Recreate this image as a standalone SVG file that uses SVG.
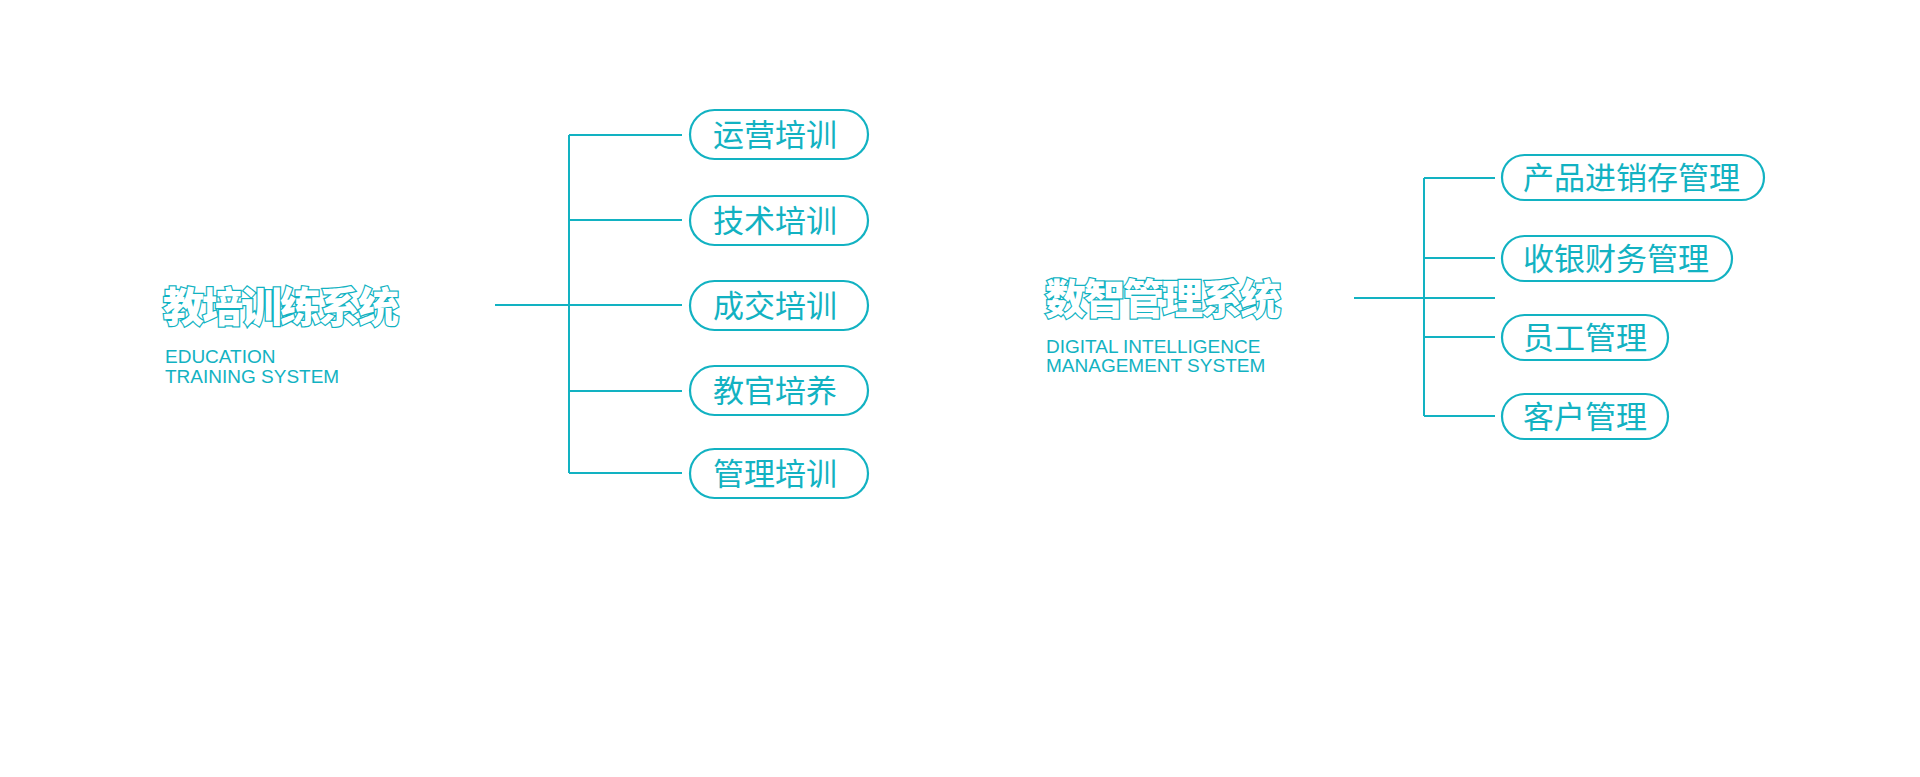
<svg xmlns="http://www.w3.org/2000/svg" width="1920" height="777" viewBox="0 0 1920 777">
<style>
.ln{stroke:#12b2c2;stroke-width:2;fill:none}
.box{fill:#fff;stroke:#12b2c2;stroke-width:2.2}
.bt{font-family:"Noto Sans CJK SC",sans-serif;font-size:31px;fill:#12b2c2}
.tt{font-family:"Noto Sans CJK SC",sans-serif;font-size:41px;font-weight:900;fill:#fff;stroke:#12b2c2;stroke-width:2.5;paint-order:stroke;letter-spacing:-2px}
.en{font-family:"Liberation Sans",Arial,sans-serif;font-size:19px;fill:#12b2c2}
</style>
<rect width="1920" height="777" fill="#fff"/>
<g id="connectors">
<path class="ln" d="M495 305H682M569 135V473M569 135H682M569 220H682M569 391H682M569 473H682"/>
<path class="ln" d="M1354 298H1495M1424 178V416M1424 178H1495M1424 258H1495M1424 337H1495M1424 416H1495"/>
</g>
<g id="title1">
<text class="tt" x="163" y="322">教培训练系统</text>
<text class="en" x="165" y="363">EDUCATION</text>
<text class="en" x="165" y="383">TRAINING SYSTEM</text>
</g>
<g id="title2">
<text class="tt" x="1045" y="314">数智管理系统</text>
<text class="en" x="1046" y="353">DIGITAL INTELLIGENCE</text>
<text class="en" x="1046" y="372">MANAGEMENT SYSTEM</text>
</g>
<g id="n1"><rect class="box" x="690" y="110" width="178" height="49" rx="24.5"/><text class="bt" x="713" y="146">运营培训</text></g>
<g id="n2"><rect class="box" x="690" y="196" width="178" height="49" rx="24.5"/><text class="bt" x="713" y="232">技术培训</text></g>
<g id="n3"><rect class="box" x="690" y="281" width="178" height="49" rx="24.5"/><text class="bt" x="713" y="317">成交培训</text></g>
<g id="n4"><rect class="box" x="690" y="366" width="178" height="49" rx="24.5"/><text class="bt" x="713" y="402">教官培养</text></g>
<g id="n5"><rect class="box" x="690" y="449" width="178" height="49" rx="24.5"/><text class="bt" x="713" y="485">管理培训</text></g>
<g id="m1"><rect class="box" x="1502" y="155" width="262" height="45" rx="22.5"/><text class="bt" x="1523" y="189">产品进销存管理</text></g>
<g id="m2"><rect class="box" x="1502" y="236" width="230" height="45" rx="22.5"/><text class="bt" x="1523" y="270">收银财务管理</text></g>
<g id="m3"><rect class="box" x="1502" y="315" width="166" height="45" rx="22.5"/><text class="bt" x="1523" y="349">员工管理</text></g>
<g id="m4"><rect class="box" x="1502" y="394" width="166" height="45" rx="22.5"/><text class="bt" x="1523" y="428">客户管理</text></g>
</svg>
